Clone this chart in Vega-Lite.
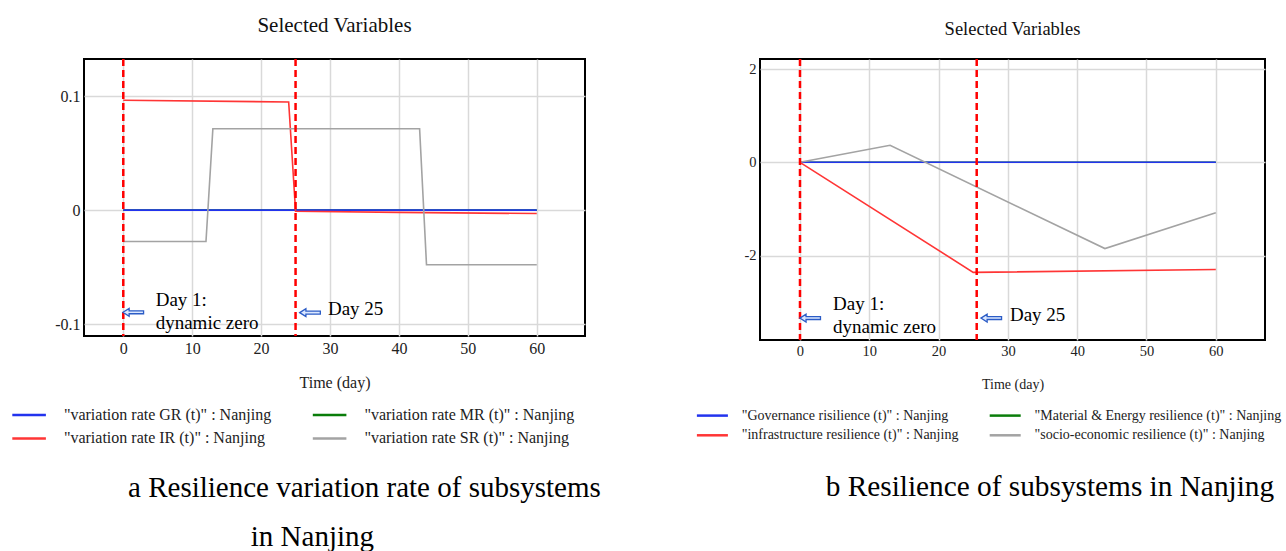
{
  "$schema": "https://vega.github.io/schema/vega-lite/v6.json",
  "padding": {"left": 20, "top": 13, "right": 0, "bottom": 0},
  "background": "white",
  "config": {
    "font": "Liberation Serif",
    "view": {"stroke": "black", "strokeWidth": 2},
    "axis": {"grid": true, "gridColor": "#d9d9d9", "gridWidth": 1.5, "domain": false, "ticks": false, "tickSize": 0, "labelColor": "#222222", "titleColor": "#222222", "titleFontWeight": "normal", "labelFont": "Liberation Serif", "titleFont": "Liberation Serif"},
    "title": {"font": "Liberation Serif", "fontWeight": "normal", "color": "#111111"},
    "legend": {"labelFont": "Liberation Serif", "labelColor": "#222222"}
  },
  "datasets": {
    "rate": [
      {"t": 0, "v": 0, "s": "\"variation rate MR (t)\" : Nanjing"},
      {"t": 60, "v": 0, "s": "\"variation rate MR (t)\" : Nanjing"},
      {"t": 0, "v": 0, "s": "\"variation rate GR (t)\" : Nanjing"},
      {"t": 60, "v": 0, "s": "\"variation rate GR (t)\" : Nanjing"},
      {"t": 0, "v": 0.0965, "s": "\"variation rate IR (t)\" : Nanjing"},
      {"t": 24, "v": 0.095, "s": "\"variation rate IR (t)\" : Nanjing"},
      {"t": 25, "v": -0.001, "s": "\"variation rate IR (t)\" : Nanjing"},
      {"t": 40, "v": -0.002, "s": "\"variation rate IR (t)\" : Nanjing"},
      {"t": 60, "v": -0.003, "s": "\"variation rate IR (t)\" : Nanjing"},
      {"t": 0, "v": -0.0275, "s": "\"variation rate SR (t)\" : Nanjing"},
      {"t": 12, "v": -0.0275, "s": "\"variation rate SR (t)\" : Nanjing"},
      {"t": 13, "v": 0.0715, "s": "\"variation rate SR (t)\" : Nanjing"},
      {"t": 43, "v": 0.0715, "s": "\"variation rate SR (t)\" : Nanjing"},
      {"t": 44, "v": -0.048, "s": "\"variation rate SR (t)\" : Nanjing"},
      {"t": 60, "v": -0.048, "s": "\"variation rate SR (t)\" : Nanjing"}
    ],
    "res": [
      {"t": 0, "v": 0, "s": "\"Material & Energy resilience (t)\" : Nanjing"},
      {"t": 60, "v": 0, "s": "\"Material & Energy resilience (t)\" : Nanjing"},
      {"t": 0, "v": 0, "s": "\"Governance risilience (t)\" : Nanjing"},
      {"t": 60, "v": 0, "s": "\"Governance risilience (t)\" : Nanjing"},
      {"t": 0, "v": 0, "s": "\"infrastructure resilience (t)\" : Nanjing"},
      {"t": 25, "v": -2.36, "s": "\"infrastructure resilience (t)\" : Nanjing"},
      {"t": 60, "v": -2.3, "s": "\"infrastructure resilience (t)\" : Nanjing"},
      {"t": 0, "v": 0, "s": "\"socio-economic resilience (t)\" : Nanjing"},
      {"t": 13, "v": 0.364, "s": "\"socio-economic resilience (t)\" : Nanjing"},
      {"t": 44, "v": -1.85, "s": "\"socio-economic resilience (t)\" : Nanjing"},
      {"t": 60, "v": -1.08, "s": "\"socio-economic resilience (t)\" : Nanjing"}
    ],
    "rulesA": [{"t": 0}, {"t": 25}],
    "rulesB": [{"t": 0}, {"t": 25.5}],
    "arrowsA": [{"t": 1.45, "v": -0.0897}, {"t": 27.1, "v": -0.09}],
    "arrowsB": [{"t": 1.47, "v": -3.34}, {"t": 27.6, "v": -3.34}],
    "textA": [
      {"t": 4.7, "v": -0.079, "label": "Day 1:"},
      {"t": 4.7, "v": -0.0994, "label": "dynamic zero"},
      {"t": 29.7, "v": -0.0871, "label": "Day 25"}
    ],
    "textB": [
      {"t": 4.78, "v": -3.03, "label": "Day 1:"},
      {"t": 4.78, "v": -3.53, "label": "dynamic zero"},
      {"t": 30.3, "v": -3.28, "label": "Day 25"}
    ]
  },
  "spacing": 103,
  "resolve": {"scale": {"color": "independent"}},
  "hconcat": [
    {
      "title": {"text": "in Nanjing", "orient": "bottom", "anchor": "start", "frame": "bounds", "fontSize": 29, "baseline": "alphabetic", "offset": 42.4, "dx": 230.7, "color": "black"},
      "resolve": {"scale": {"color": "independent"}},
      "vconcat": [
        {
          "title": {"text": "a Resilience variation rate of subsystems", "orient": "bottom", "anchor": "start", "frame": "bounds", "fontSize": 29, "baseline": "alphabetic", "offset": 49.2, "dx": 107.95, "color": "black"},
          "resolve": {"scale": {"color": "independent"}},
          "vconcat": [
            {
              "width": 501,
              "height": 277,
              "title": {"text": "Selected Variables", "fontSize": 21, "offset": 5, "baseline": "alphabetic", "anchor": "middle", "frame": "group"},
              "layer": [
                {
                  "data": {"name": "rate"},
                  "mark": {"type": "line", "strokeWidth": 1.6},
                  "encoding": {
                    "x": {"field": "t", "type": "quantitative", "scale": {"domain": [-5.7, 67], "nice": false, "zero": false},
                          "axis": {"values": [0, 10, 20, 30, 40, 50, 60], "title": "Time (day)", "labelFontSize": 16, "labelBaseline": "middle", "labelPadding": 12.1, "titleFontSize": 16, "titlePadding": 18}},
                    "y": {"field": "v", "type": "quantitative", "scale": {"domain": [-0.1105, 0.1327], "nice": false, "zero": false},
                          "axis": {"values": [-0.1, 0, 0.1], "title": null, "labelFontSize": 16, "labelPadding": 4, "labelExpr": "'' + datum.value"}},
                    "color": {"field": "s", "type": "nominal",
                              "scale": {"domain": ["\"variation rate GR (t)\" : Nanjing", "\"variation rate MR (t)\" : Nanjing", "\"variation rate IR (t)\" : Nanjing", "\"variation rate SR (t)\" : Nanjing"],
                                        "range": ["#2233ee", "#0a7d0a", "#ff3535", "#a3a3a3"]},
                              "legend": {"title": null, "orient": "none", "legendX": -62.9, "legendY": 348, "direction": "horizontal", "columns": 2, "symbolType": "M -2.49 0 L 2.49 0", "symbolSize": 182, "symbolStrokeWidth": 2.5, "labelFontSize": 16, "labelOffset": 26.8, "labelLimit": 400, "columnPadding": 35.5, "rowPadding": 7.4, "padding": 0}}
                  }
                },
                {
                  "data": {"name": "rulesA"},
                  "mark": {"type": "rule", "color": "#ff0000", "strokeWidth": 2.5, "strokeDash": [7, 4]},
                  "encoding": {"x": {"field": "t", "type": "quantitative"}}
                },
                {
                  "data": {"name": "arrowsA"},
                  "mark": {"type": "point", "shape": "M -1 0 L -0.4 -0.38 L -0.4 -0.14 L 1 -0.14 L 1 0.14 L -0.4 0.14 L -0.4 0.38 Z", "size": 425, "filled": true, "fill": "#dce8ff", "stroke": "#2b5cc6", "strokeWidth": 1.3, "opacity": 1},
                  "encoding": {"x": {"field": "t", "type": "quantitative"}, "y": {"field": "v", "type": "quantitative"}}
                },
                {
                  "data": {"name": "textA"},
                  "mark": {"type": "text", "align": "left", "baseline": "middle", "fontSize": 19, "color": "black", "font": "Liberation Serif"},
                  "encoding": {"x": {"field": "t", "type": "quantitative"}, "y": {"field": "v", "type": "quantitative"}, "text": {"field": "label"}}
                }
              ]
            }
          ]
        }
      ]
    },
    {
      "title": {"text": "b Resilience of subsystems in Nanjing", "orient": "bottom", "anchor": "start", "frame": "bounds", "fontSize": 29.3, "baseline": "alphabetic", "offset": 52.1, "dx": 121.35, "color": "black"},
      "resolve": {"scale": {"color": "independent"}},
      "vconcat": [
        {
          "width": 505,
          "height": 281,
          "title": {"text": "Selected Variables", "fontSize": 18.5, "offset": 4, "baseline": "alphabetic", "anchor": "middle", "frame": "group"},
          "layer": [
            {
              "data": {"name": "res"},
              "mark": {"type": "line", "strokeWidth": 1.6},
              "encoding": {
                "x": {"field": "t", "type": "quantitative", "scale": {"domain": [-5.77, 67.1], "nice": false, "zero": false},
                      "axis": {"values": [0, 10, 20, 30, 40, 50, 60], "title": "Time (day)", "labelFontSize": 14.5, "labelBaseline": "middle", "labelPadding": 11.6, "titleFontSize": 14, "titlePadding": 18.9}},
                "y": {"field": "v", "type": "quantitative", "scale": {"domain": [-3.81, 2.215], "nice": false, "zero": false},
                      "axis": {"values": [-2, 0, 2], "title": null, "labelFontSize": 14.5, "labelPadding": 4, "labelExpr": "'' + datum.value"}},
                "color": {"field": "s", "type": "nominal",
                          "scale": {"domain": ["\"Governance risilience (t)\" : Nanjing", "\"Material & Energy resilience (t)\" : Nanjing", "\"infrastructure resilience (t)\" : Nanjing", "\"socio-economic resilience (t)\" : Nanjing"],
                                    "range": ["#2233ee", "#0a7d0a", "#ff3535", "#a3a3a3"]},
                          "legend": {"title": null, "orient": "none", "legendX": -54.6, "legendY": 349.6, "direction": "horizontal", "columns": 2, "symbolType": "M -2.7 0 L 2.7 0", "symbolSize": 132, "symbolStrokeWidth": 2.5, "labelFontSize": 14, "labelOffset": 22.3, "labelLimit": 400, "columnPadding": 25.8, "rowPadding": 5.7, "padding": 0}}
              }
            },
            {
              "data": {"name": "rulesB"},
              "mark": {"type": "rule", "color": "#ff0000", "strokeWidth": 2.5, "strokeDash": [7, 4]},
              "encoding": {"x": {"field": "t", "type": "quantitative"}}
            },
            {
              "data": {"name": "arrowsB"},
              "mark": {"type": "point", "shape": "M -1 0 L -0.4 -0.38 L -0.4 -0.14 L 1 -0.14 L 1 0.14 L -0.4 0.14 L -0.4 0.38 Z", "size": 425, "filled": true, "fill": "#dce8ff", "stroke": "#2b5cc6", "strokeWidth": 1.3, "opacity": 1},
              "encoding": {"x": {"field": "t", "type": "quantitative"}, "y": {"field": "v", "type": "quantitative"}}
            },
            {
              "data": {"name": "textB"},
              "mark": {"type": "text", "align": "left", "baseline": "middle", "fontSize": 19, "color": "black", "font": "Liberation Serif"},
              "encoding": {"x": {"field": "t", "type": "quantitative"}, "y": {"field": "v", "type": "quantitative"}, "text": {"field": "label"}}
            }
          ]
        }
      ]
    }
  ]
}
